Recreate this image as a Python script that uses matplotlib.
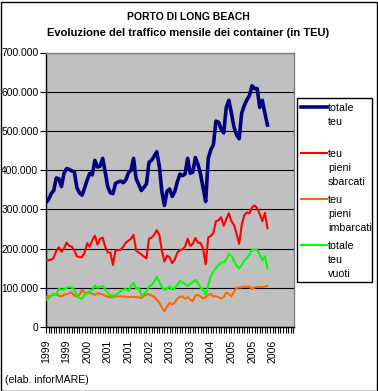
import matplotlib
matplotlib.use("Agg")
import matplotlib.pyplot as plt
from matplotlib.ticker import FuncFormatter, MultipleLocator, FixedLocator
from matplotlib.patches import Rectangle
from matplotlib.lines import Line2D

plt.rcParams['font.family'] = ['Liberation Sans', 'DejaVu Sans']

# ---- data (monthly, Jan 1999 onward, values in thousand TEU) ----
totale_teu = [318, 325, 340, 348, 380, 378, 358, 392, 404, 402, 398, 396,
              355, 342, 336, 355, 375, 392, 388, 425, 408, 410, 430, 395,
              357, 342, 340, 366, 370, 372, 368, 375, 393, 400, 430, 378,
              364, 348, 356, 365, 420, 425, 435, 447, 410, 345, 310, 346,
              352, 333, 345, 370, 390, 386, 390, 430, 392, 395, 432, 415,
              390, 355, 320, 430, 452, 465, 525, 522, 505, 495, 560, 578,
              545, 510, 490, 480, 546, 565, 579, 590, 615, 608, 608, 560,
              578, 545, 515]
teu_pieni_sbarcati = [170, 170, 172, 176, 195, 203, 192, 200, 215, 207, 205, 195,
                      180, 178, 178, 190, 214, 205, 222, 233, 210, 225, 228, 205,
                      190, 190, 158, 196, 196, 197, 205, 215, 220, 225, 235, 195,
                      190, 185, 180, 175, 225, 228, 235, 247, 235, 195, 167, 182,
                      178, 163, 172, 190, 196, 198, 205, 225, 207, 212, 227, 215,
                      214, 200, 160, 228, 232, 240, 270, 272, 280, 258, 275, 290,
                      270, 260, 238, 212, 260, 285, 292, 290, 305, 310, 303, 288,
                      270, 291, 252]
teu_pieni_imbarcati = [77, 78, 80, 82, 84, 80, 78, 82, 84, 86, 88, 80,
                       78, 82, 95, 88, 86, 87, 84, 82, 87, 84, 83, 80,
                       77, 76, 76, 78, 78, 78, 78, 77, 76, 77, 77, 76,
                       76, 74, 80, 83, 84, 80, 77, 70, 62, 50, 40, 52,
                       62, 58, 62, 72, 77, 78, 72, 76, 70, 66, 80, 82,
                       78, 73, 76, 82, 84, 78, 78, 76, 73, 76, 88, 84,
                       78, 90, 100, 101, 101, 103, 102, 103, 97, 101, 102, 102,
                       102, 103, 105]
totale_teu_vuoti = [69, 72, 80, 85, 82, 98, 95, 96, 100, 102, 100, 95,
                    80, 74, 72, 82, 88, 90, 96, 106, 100, 102, 104, 96,
                    87, 80, 80, 81, 86, 91, 95, 97, 92, 105, 112, 98,
                    100, 80, 84, 92, 103, 107, 115, 128, 115, 102, 95, 98,
                    104, 95, 100, 107, 118, 113, 110, 104, 110, 114, 120, 112,
                    100, 95, 82, 107, 130, 141, 150, 158, 164, 165, 172, 186,
                    182, 169, 156, 150, 158, 170, 176, 185, 197, 197, 196, 185,
                    170, 180, 150]

series_names = ["totale\nteu", "teu\npieni\nsbarcati", "teu\npieni\nimbarcati", "totale\nteu\nvuoti"]
series_values = [totale_teu, teu_pieni_sbarcati, teu_pieni_imbarcati, totale_teu_vuoti]
series_colors = ["#000080", "#FF0000", "#FF6600", "#00FF00"]
series_widths = [2.6, 1.5, 1.5, 1.5]

tick_labels = ['1999', '1999', '2000', '2001', '2001', '2002', '2003', '2003',
               '2004', '2005', '2005', '2006']
label_step = 8  # months between labels

title_lines = ["PORTO DI LONG BEACH", "Evoluzione del traffico mensile dei container (in TEU)"]
source_note = "(elab. inforMARE)"

# ---- figure ----
W, H = 378, 391
fig = plt.figure(figsize=(W / 100, H / 100), dpi=100)
fig.patch.set_facecolor("white")

def fx(x):
    return x / W

def fy(y):
    return 1 - y / H

L, R, T, B = 46, 294, 52.5, 327
ax = fig.add_axes([fx(L), fy(B), fx(R) - fx(L), fy(T) - fy(B)])
ax.set_facecolor("#C0C0C0")

for vals, col, lw in zip(series_values, series_colors, series_widths):
    xs = list(range(len(vals)))
    ax.plot(xs, [v * 1000 for v in vals], color=col, lw=lw, solid_joinstyle="round", zorder=3)

ax.set_ylim(0, 700000)
ax.set_xlim(0, 96.3)
ax.yaxis.set_major_locator(MultipleLocator(100000))
ax.yaxis.set_major_formatter(FuncFormatter(lambda v, p: f"{int(v):,}".replace(",", ".")))
ax.grid(axis="y", color="black", lw=0.8, zorder=1)
ax.set_axisbelow(True)

ax.xaxis.set_major_locator(FixedLocator([i * label_step for i in range(len(tick_labels))]))
ax.set_xticklabels(tick_labels, rotation=90, fontsize=7.6)
ax.xaxis.set_minor_locator(MultipleLocator(1))
ax.tick_params(axis="x", which="both", direction="out", length=4, width=0.8, pad=5, color="black")
ax.tick_params(axis="y", which="major", direction="out", length=4, width=0.8, pad=1.5, labelsize=7.4)

for s in ["top", "right"]:
    ax.spines[s].set_color("#808080")
    ax.spines[s].set_linewidth(1)
for s in ["left", "bottom"]:
    ax.spines[s].set_color("black")
    ax.spines[s].set_linewidth(1)

# ---- titles ----
fig.text(fx(188), fy(17), title_lines[0], ha="center", va="center", fontsize=7.5, fontweight="bold")
fig.text(fx(188), fy(33), title_lines[1], ha="center", va="center", fontsize=8, fontweight="bold")
fig.text(fx(5), fy(380), source_note, ha="left", va="center", fontsize=7.6)

# ---- legend (manual, Excel style) ----
fig.add_artist(Rectangle((fx(297), fy(282)), fx(372) - fx(297), fy(98) - fy(282),
                         transform=fig.transFigure, facecolor="white", edgecolor="black", lw=1))
entry_y = [107, 153, 199, 245]
for name, col, lw, ey in zip(series_names, series_colors, series_widths, entry_y):
    fig.add_artist(Line2D([fx(300.5), fx(327)], [fy(ey), fy(ey)], transform=fig.transFigure,
                          color=col, lw=lw))
    for k, line in enumerate(name.split("\n")):
        fig.text(fx(328), fy(ey + 1 + 14 * k), line, ha="left", va="center", fontsize=7.7)

# ---- outer border ----
fig.add_artist(Rectangle((0.5 / W, 0.5 / H), (W - 2) / W, (H - 2) / H, transform=fig.transFigure,
                         facecolor="none", edgecolor="black", lw=1))

fig.savefig("out.png", dpi=100)
